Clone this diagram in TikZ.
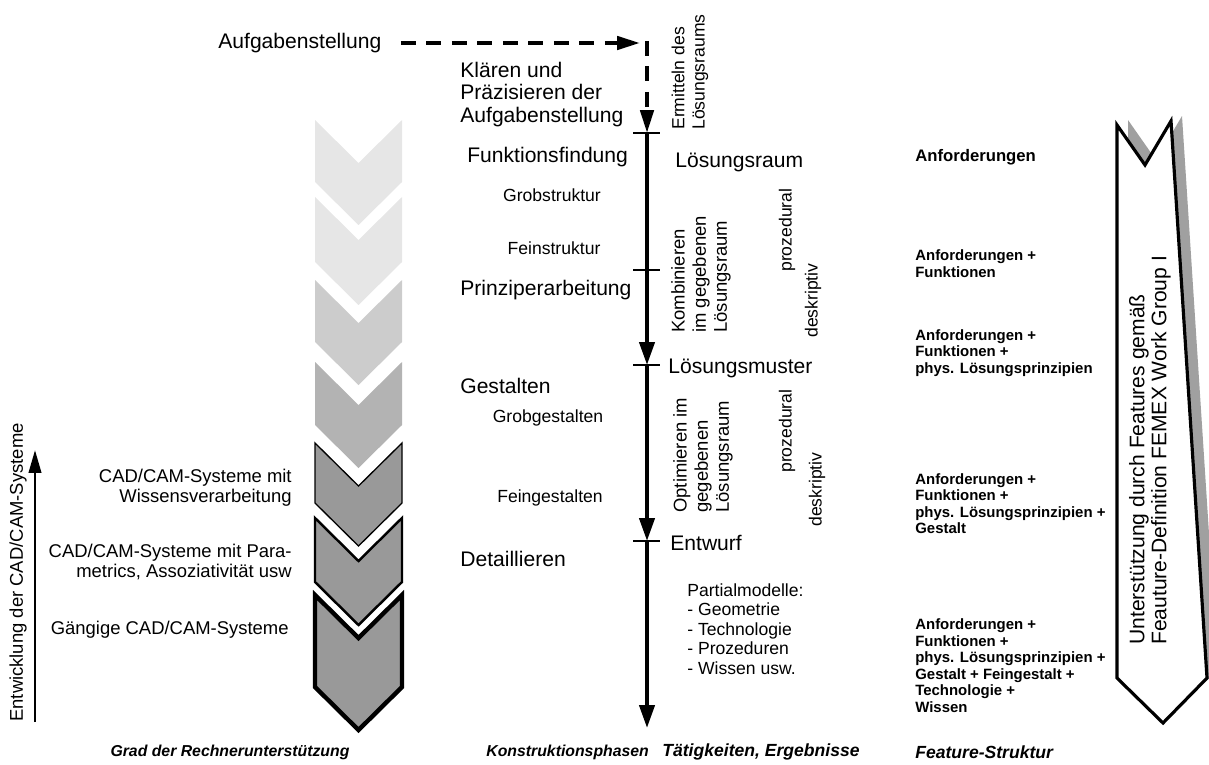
\documentclass[tikz,border=0pt]{standalone}
\usepackage{fontspec}
\setmainfont{Liberation Sans}
\usetikzlibrary{arrows.meta}
\definecolor{cA}{HTML}{E6E6E6}
\definecolor{cB}{HTML}{CCCCCC}
\definecolor{cC}{HTML}{B3B3B3}
\definecolor{cD}{HTML}{999999}
\definecolor{shadowgray}{HTML}{A0A0A0}
\tikzset{
  big/.style={inner sep=0pt, font=\fontsize{12}{13}\selectfont},
  sm/.style={inner sep=0pt, font=\fontsize{10}{11.5}\selectfont},
  mid/.style={inner sep=0pt, font=\fontsize{10.5}{11.4}\selectfont},
  feat/.style={inner sep=0pt, anchor=west, align=left, font=\bfseries\fontsize{8.5}{9.4}\selectfont},
  ttl/.style={inner sep=0pt, anchor=west, font=\bfseries\itshape\fontsize{10}{12}\selectfont},
  ttlsmall/.style={ttl, font=\bfseries\itshape\fontsize{9}{11}\selectfont},
  axisarrow/.style={line width=2.3pt, -{Triangle[length=13pt,width=8.5pt]}},
  tickline/.style={line width=0.7pt},
  dasharrow/.style={line width=2.2pt, dash pattern=on 8.5pt off 6pt, -{Triangle[length=13pt,width=7.5pt]}},
}
\begin{document}
\begin{tikzpicture}[x=0.02cm,y=-0.02cm]
\useasboundingbox (0,0) rectangle (1209,764);

% ---------- chevrons (Grad der Rechnerunterstuetzung)
\fill[cA] (315,120) -- (358.5,163) -- (402,120) -- (402,182) -- (358.5,225) -- (315,182) -- cycle;
\fill[cA] (315,197) -- (358.5,240) -- (402,197) -- (402,262) -- (358.5,305) -- (315,262) -- cycle;
\fill[cB] (315,280) -- (358.5,323) -- (402,280) -- (402,342) -- (358.5,385) -- (315,342) -- cycle;
\fill[cC] (315,362) -- (358.5,405) -- (402,362) -- (402,425) -- (358.5,468) -- (315,425) -- cycle;
\filldraw[fill=cD, draw=black, line width=0.75pt] (315,443) -- (358.5,486) -- (402,443) -- (402,503) -- (358.5,546) -- (315,503) -- cycle;
\filldraw[fill=cD, draw=black, line width=1.4pt] (315,518) -- (358.5,561) -- (402,518) -- (402,582) -- (358.5,625) -- (315,582) -- cycle;
\filldraw[fill=cD, draw=black, line width=2.5pt] (315,595) -- (358.5,638) -- (402,595) -- (402,687) -- (358.5,730) -- (315,687) -- cycle;

% ---------- left labels
\node[mid, anchor=east, align=right] (wissen) at (292,488) {CAD/CAM-Systeme mit\\Wissensverarbeitung};
\node[mid, anchor=east, align=right] (para) at (292,561.5) {CAD/CAM-Systeme mit Para-\\metrics, Assoziativit\"at usw};
\node[mid, anchor=east] (gaengig) at (289,630) {G\"angige CAD/CAM-Systeme};

\coordinate (l0) at (35,722);
\coordinate (l1) at (35,450);
\draw[line width=1.6pt, -{Triangle[length=13pt,width=7pt]}] (l0) -- (l1);
\node[mid, rotate=90, anchor=west] (entw) at (18,722) {Entwicklung der CAD/CAM-Systeme};

% ---------- Konstruktionsphasen
\node[big, anchor=west] (aufg) at (218,43) {Aufgabenstellung};
\node[big, anchor=west, align=left, font=\fontsize{12}{12.8}\selectfont] (klaeren) at (460,94.5) {Kl\"aren und\\Pr\"azisieren der\\Aufgabenstellung};
\node[big, anchor=west] (funk) at (467,157) {Funktionsfindung};
\node[sm] (grobs) at (552,195) {Grobstruktur};
\node[sm] (feins) at (554,248) {Feinstruktur};
\node[big, anchor=west] (prinz) at (460,290) {Prinziperarbeitung};
\node[big, anchor=west] (gest) at (460,386) {Gestalten};
\node[sm] (grobg) at (548,418) {Grobgestalten};
\node[sm] (feing) at (550,498) {Feingestalten};
\node[big, anchor=west] (detail) at (460,559) {Detaillieren};

% ---------- axis
\coordinate (corner) at (647,43);
\coordinate (t0) at (647,133);
\coordinate (t1) at (647,270);
\coordinate (t2) at (647,365);
\coordinate (t3) at (647,541);
\coordinate (tend) at (647,728);

\draw[dasharrow, shorten <=11pt, shorten >=4pt] (aufg.east) -- (corner);
\draw[dasharrow, shorten <=-1.2pt] (corner) -- (t0);
\draw[axisarrow] (t0) -- (t2);
\draw[axisarrow] (t2) -- (t3);
\draw[axisarrow] (t3) -- (tend);
\foreach \t in {t0,t1,t2,t3}{
  \draw[tickline] ([xshift=-0.28cm]\t) -- ([xshift=0.26cm]\t);
}

% ---------- Taetigkeiten, Ergebnisse
\node[sm, rotate=90, anchor=west, align=left] (ermit) at (690,130) {Ermitteln des\\L\"osungsraums};
\node[big, anchor=west] (lraum) at (675,162) {L\"osungsraum};
\node[sm, rotate=90, anchor=west, align=left, font=\fontsize{10.5}{12}\selectfont] (komb) at (701,333) {Kombinieren\\im gegebenen\\L\"osungsraum};
\node[sm, rotate=90, anchor=west] (proz1) at (787,272) {prozedural};
\node[sm, rotate=90, anchor=west] (desk1) at (813,338) {deskriptiv};
\node[big, anchor=west] (muster) at (668,368) {L\"osungsmuster};
\node[sm, rotate=90, anchor=west, align=left, font=\fontsize{10.5}{12}\selectfont] (opti) at (703,513) {Optimieren im\\gegebenen\\L\"osungsraum};
\node[sm, rotate=90, anchor=west] (proz2) at (787,473) {prozedural};
\node[sm, rotate=90, anchor=west] (desk2) at (817,527) {deskriptiv};
\node[big, anchor=west] (entwurf) at (670,543) {Entwurf};
\node[sm, anchor=west, align=left, font=\fontsize{10}{11.1}\selectfont] (partial) at (687,629) {Partialmodelle:\\- Geometrie\\- Technologie\\- Prozeduren\\- Wissen usw.};

% ---------- Feature-Struktur
\node[feat, font=\bfseries\fontsize{9.5}{11}\selectfont] (f1) at (915,157) {Anforderungen};
\node[feat] (f2) at (915,263.5) {Anforderungen +\\Funktionen};
\node[feat] (f3) at (915,353) {Anforderungen +\\Funktionen +\\phys. L\"osungsprinzipien};
\node[feat] (f4) at (915,503.5) {Anforderungen +\\Funktionen +\\phys. L\"osungsprinzipien +\\Gestalt};
\node[feat] (f5) at (915,665.5) {Anforderungen +\\Funktionen +\\phys. L\"osungsprinzipien +\\Gestalt + Feingestalt +\\Technologie +\\Wissen};

% ---------- big arrow
\fill[shadowgray] (1128,120) -- (1156,160) -- (1182,116) -- (1218,673) -- (1190,690) -- (1128,690) -- cycle;
\filldraw[fill=white, draw=black, line width=1.8pt] (1117,125) -- (1145,165) -- (1171,121) -- (1207,678) -- (1163,723) -- (1117,678) -- cycle;
\node[big, rotate=90, anchor=west, align=left, font=\fontsize{12}{12.5}\selectfont] (femex) at (1150,645) {Unterst\"utzung durch Features gem\"a\ss\\Feauture-Definition FEMEX Work Group I};

% ---------- titles
\node[ttlsmall, anchor=center] (tgrad) at (230,752) {Grad der Rechnerunterst\"utzung};
\node[ttlsmall] (tkons) at (486,752) {Konstruktionsphasen};
\node[ttl] (ttaet) at (662,752) {T\"atigkeiten, Ergebnisse};
\node[ttl] (tfeat) at (915,752) {Feature-Struktur};
\end{tikzpicture}
\end{document}
